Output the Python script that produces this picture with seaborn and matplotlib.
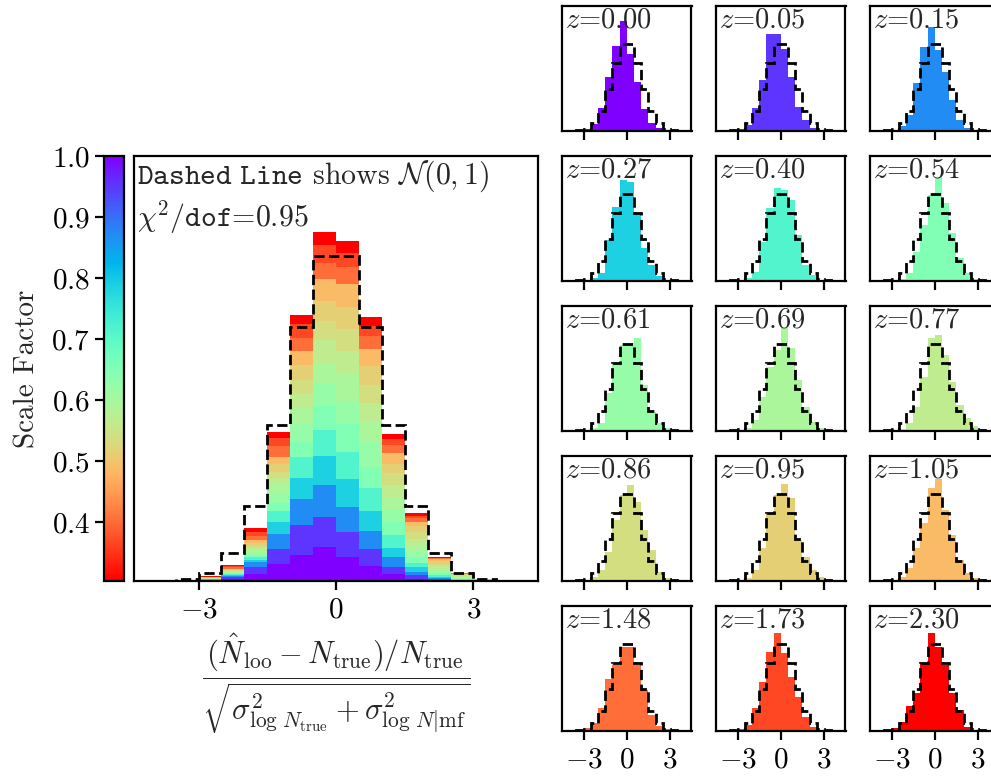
import numpy as np
import pandas as pd
import matplotlib
matplotlib.use("Agg")
import matplotlib.pyplot as plt
import seaborn as sns
from matplotlib.colors import Normalize
from matplotlib.cm import ScalarMappable

# ---------------- data ----------------
redshifts = [0.00, 0.05, 0.15, 0.27, 0.40, 0.54, 0.61, 0.69, 0.77, 0.86, 0.95, 1.05, 1.48, 1.73, 2.30]
z_labels = ["0.00", "0.05", "0.15", "0.27", "0.40", "0.54", "0.61", "0.69", "0.77",
            "0.86", "0.95", "1.05", "1.48", "1.73", "2.30"]
# fraction of the full sample at each redshift (layer share in the stacked panel)
sample_frac = [0.0828, 0.0832, 0.0814, 0.0770, 0.0772, 0.0727, 0.0708, 0.0686, 0.0653,
               0.0602, 0.0615, 0.0627, 0.0531, 0.0482, 0.0365]
# histogram bin edges (width 0.5) from -4.5 to 4.5
bin_lo, bin_hi, bin_w = -4.5, 4.5, 0.5
# per-redshift normalised histograms (density per bin)
dens_z000 = [0, 0, 0.002, 0.010, 0.030, 0.100, 0.236, 0.374, 0.484, 0.340, 0.217, 0.095, 0.034, 0.012, 0.004, 0.002, 0, 0]
dens_z005 = [0, 0, 0.002, 0.007, 0.026, 0.100, 0.224, 0.425, 0.425, 0.360, 0.239, 0.107, 0.048, 0.012, 0.004, 0.001, 0, 0]
dens_z015 = [0, 0, 0.001, 0.004, 0.022, 0.070, 0.210, 0.371, 0.459, 0.356, 0.261, 0.136, 0.048, 0.015, 0.004, 0, 0, 0]
dens_z027 = [0, 0, 0.001, 0.004, 0.012, 0.035, 0.180, 0.327, 0.444, 0.437, 0.298, 0.144, 0.070, 0.020, 0.005, 0.002, 0, 0]
dens_z040 = [0, 0, 0.001, 0.004, 0.012, 0.041, 0.173, 0.320, 0.408, 0.400, 0.356, 0.202, 0.070, 0.026, 0.006, 0.002, 0, 0]
dens_z054 = [0, 0, 0.001, 0.003, 0.010, 0.034, 0.129, 0.246, 0.378, 0.459, 0.342, 0.210, 0.100, 0.034, 0.008, 0.002, 0, 0]
dens_z061 = [0, 0, 0.001, 0.004, 0.012, 0.034, 0.166, 0.298, 0.378, 0.386, 0.410, 0.202, 0.085, 0.034, 0.012, 0.003, 0, 0]
dens_z069 = [0, 0, 0.001, 0.004, 0.012, 0.048, 0.151, 0.283, 0.356, 0.455, 0.364, 0.224, 0.107, 0.040, 0.015, 0.003, 0, 0]
dens_z077 = [0, 0, 0.001, 0.003, 0.010, 0.034, 0.107, 0.239, 0.410, 0.422, 0.334, 0.217, 0.114, 0.056, 0.023, 0.004, 0, 0]
dens_z086 = [0, 0, 0.001, 0.005, 0.019, 0.048, 0.129, 0.268, 0.378, 0.422, 0.349, 0.224, 0.136, 0.041, 0.015, 0.004, 0, 0]
dens_z095 = [0, 0, 0.001, 0.005, 0.015, 0.048, 0.144, 0.298, 0.378, 0.425, 0.364, 0.180, 0.107, 0.048, 0.019, 0.004, 0, 0]
dens_z105 = [0, 0, 0.001, 0.005, 0.019, 0.056, 0.144, 0.254, 0.408, 0.447, 0.312, 0.202, 0.092, 0.034, 0.012, 0.003, 0, 0]
dens_z148 = [0, 0, 0.002, 0.012, 0.034, 0.100, 0.227, 0.290, 0.371, 0.371, 0.290, 0.180, 0.070, 0.022, 0.007, 0.002, 0, 0]
dens_z173 = [0, 0, 0.002, 0.007, 0.026, 0.100, 0.217, 0.349, 0.433, 0.342, 0.239, 0.151, 0.063, 0.019, 0.005, 0.001, 0, 0]
dens_z230 = [0, 0, 0.002, 0.012, 0.041, 0.110, 0.169, 0.298, 0.430, 0.371, 0.290, 0.166, 0.092, 0.019, 0.005, 0.001, 0, 0]
# binned N(0,1) reference (dashed line), same bins
normal_ref = [0.00006, 0.00040, 0.00223, 0.00972, 0.03308, 0.08812, 0.18370, 0.29976, 0.38292,
              0.38292, 0.29976, 0.18370, 0.08812, 0.03308, 0.00972, 0.00223, 0.00040, 0.00006]
chi2_dof = "0.95"

dens_all = [dens_z000, dens_z005, dens_z015, dens_z027, dens_z040, dens_z054, dens_z061, dens_z069,
            dens_z077, dens_z086, dens_z095, dens_z105, dens_z148, dens_z173, dens_z230]

# ---------------- style ----------------
sns.set_style("ticks")
plt.rcParams.update({
    "font.family": "serif",
    "font.serif": ["cmr10"],
    "mathtext.fontset": "cm",
    "axes.formatter.use_mathtext": True,
    "axes.unicode_minus": True,
    "axes.linewidth": 1.6,
    "axes.edgecolor": "black",
    "xtick.color": "black",
    "ytick.color": "black",
    "xtick.major.size": 6.5,
    "ytick.major.size": 6.5,
    "xtick.major.width": 1.6,
    "ytick.major.width": 1.6,
    "xtick.direction": "out",
    "ytick.direction": "out",
})

FS = 21
FS_TXT = 21.5
FS_XL = 22
edges = [float(e) for e in np.arange(bin_lo, bin_hi + bin_w / 2, bin_w)]
centers = [0.5 * (a + b) for a, b in zip(edges[:-1], edges[1:])]

cmap = plt.get_cmap("rainbow_r")
a_min = 1.0 / (1.0 + max(redshifts))
norm = Normalize(vmin=a_min, vmax=1.0)
colors = {lab: cmap(norm(1.0 / (1.0 + z))) for lab, z in zip(z_labels, redshifts)}

W, H = 991, 776
fig = plt.figure(figsize=(W / 100, H / 100), dpi=100)

def px_axes(left, top, width, height):
    return fig.add_axes([left / W, 1 - (top + height) / H, width / W, height / H])

# ---------------- main stacked panel ----------------
ax = px_axes(134, 156, 404, 425)
rows = []
for lab, frac, d in zip(z_labels, sample_frac, dens_all):
    for c, v in zip(centers, d):
        rows.append({"x": c, "z": lab, "w": frac * v})
df_main = pd.DataFrame(rows)
sns.histplot(data=df_main, x="x", weights="w", hue="z", hue_order=z_labels[::-1],
             palette=colors, multiple="stack", bins=edges, stat="count",
             element="bars", alpha=1, linewidth=0, legend=False, ax=ax)
ax.stairs(normal_ref[1:-1], edges[1:-1], color="black", ls="--", lw=2, zorder=5)
ax.set_xlim(-4.41, 4.41)
ax.set_ylim(0, 0.501)
ax.set_yticks([])
ax.set_ylabel("")
ax.set_xticks([-3, 0, 3])
ax.tick_params(axis="x", labelsize=FS, pad=5)
ax.set_xlabel(r"$\dfrac{(\hat{N}_{\rm loo}-N_{\rm true})/N_{\rm true}}"
              r"{\sqrt{\sigma^2_{\log\,N_{\rm true}}+\sigma^2_{\log\,N|{\rm mf}}}}$",
              fontsize=FS_XL, labelpad=6)
ax.text(0.008, 0.995, r"$\mathtt{Dashed\ Line}$ shows $\mathcal{N}(0,1)$",
        transform=ax.transAxes, ha="left", va="top", fontsize=FS_TXT)
ax.text(0.008, 0.900, r"$\chi^2/\mathtt{dof}$=" + chi2_dof,
        transform=ax.transAxes, ha="left", va="top", fontsize=FS_TXT)

# ---------------- colorbar ----------------
cax = px_axes(104, 156, 20, 425)
sm = ScalarMappable(norm=norm, cmap=cmap)
cb = fig.colorbar(sm, cax=cax)
cb.set_ticks([0.4, 0.5, 0.6, 0.7, 0.8, 0.9, 1.0])
cax.yaxis.set_ticks_position("left")
cax.yaxis.set_label_position("left")
cax.tick_params(labelsize=FS)
cb.outline.set_linewidth(1.6)
cb.set_label("Scale Factor", fontsize=FS, labelpad=8)

# ---------------- small panels ----------------
col_left = [562, 716, 870]
row_top = [6, 156, 306, 456, 606]
for i, (lab, d) in enumerate(zip(z_labels, dens_all)):
    r, c = divmod(i, 3)
    sax = px_axes(col_left[c], row_top[r], 129.5, 125)
    sns.histplot(x=centers, weights=d, bins=edges, stat="count", color=colors[lab],
                 alpha=1, linewidth=0, ax=sax)
    sax.stairs(normal_ref, edges, color="black", ls="--", lw=2, zorder=5)
    sax.set_xlim(-4.5, 4.5)
    sax.set_ylim(0, 0.55)
    sax.set_yticks([])
    sax.set_ylabel("")
    sax.set_xlabel("")
    sax.set_xticks([-3, 0, 3])
    if r < 4:
        sax.set_xticklabels([])
    sax.tick_params(axis="x", labelsize=FS, pad=5)
    sax.text(0.025, 0.99, r"$z$=" + lab, transform=sax.transAxes,
             ha="left", va="top", fontsize=20.5)

fig.savefig("out.png", dpi=100)
